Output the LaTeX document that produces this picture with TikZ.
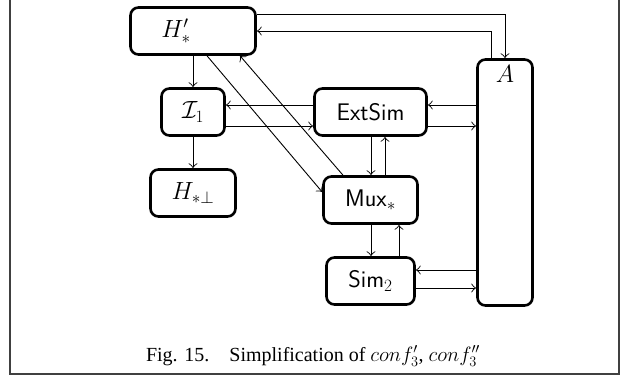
\documentclass[tikz,border=0pt]{standalone}
\usepackage[no-math]{fontspec}
\setmainfont{Liberation Serif}
\usetikzlibrary{arrows.meta,calc}
\tikzset{
  box/.style={draw, line width=2.6pt, rounded corners=8pt, inner sep=0pt,
    font=\fontsize{24}{28}\selectfont},
  arr/.style={-{Classical TikZ Rightarrow[length=5pt,width=9pt]}, line width=0.9pt},
  frame/.style={draw=black!75, line width=1.4pt},
  capt/.style={font=\fontsize{20}{24}\selectfont, anchor=base}
}
\begin{document}
\begin{tikzpicture}[x=1pt,y=-1pt]
\useasboundingbox (0,0) rectangle (626,379);
\draw[frame] (10,0) -- (10,374) -- (619,374) -- (619,0);

\node[box, minimum width=125pt, minimum height=47pt] (Hp) at (193,31) {$H'_*$\kern34pt};
\node[box, minimum width=55pt, minimum height=246pt,
  label={[font=\fontsize{24}{28}\selectfont, below=4pt]north:$A$}] (A) at (505,182.5) {};
\node[box, minimum width=63pt, minimum height=47pt] (I1) at (193,112) {$\mathcal{I}_1$};
\node[box, minimum width=112pt, minimum height=47pt] (Ext) at (370.5,112) {\sffamily ExtSim};
\node[box, minimum width=85pt, minimum height=47pt] (Hb) at (193,193) {$H_{*\perp}$};
\node[box, minimum width=94pt, minimum height=47pt] (Mux) at (370.5,200) {\sffamily Mux$_*$};
\node[box, minimum width=88pt, minimum height=47pt] (Sim) at (370.5,281) {\sffamily Sim$_2$};

\coordinate (ya) at (0,14);
\coordinate (xa) at (491,0);
\coordinate (y1) at (0,105);
\coordinate (y2) at (0,126);
\coordinate (y3) at (0,270);
\coordinate (y4) at (0,288);
\coordinate (x1) at (371,0);
\coordinate (x2) at (385,0);
\coordinate (x3) at (399,0);
\coordinate (xd1) at (207,0);
\coordinate (yd1) at (0,192);
\coordinate (xd2) at (343,0);
\coordinate (xd3) at (240,0);

\draw[arr] (Hp.east |- ya) -| (A.north);
\draw[arr] (A.north -| xa) |- (Hp.east);
\draw[arr] (Hp.south) -- (I1.north);
\draw[arr] (I1.south) -- (Hb.north);
\draw[arr] (Ext.west |- y1) -- (I1.east |- y1);
\draw[arr] (I1.east |- y2) -- (Ext.west |- y2);
\draw[arr] (A.west |- y1) -- (Ext.east |- y1);
\draw[arr] (Ext.east |- y2) -- (A.west |- y2);
\draw[arr] (Ext.south -| x1) -- (Mux.north -| x1);
\draw[arr] (Mux.north -| x2) -- (Ext.south -| x2);
\draw[arr] (Mux.south -| x1) -- (Sim.north -| x1);
\draw[arr] (Sim.north -| x3) -- (Mux.south -| x3);
\draw[arr] (A.west |- y3) -- (Sim.east |- y3);
\draw[arr] (Sim.east |- y4) -- (A.west |- y4);
\draw[arr] (Hp.south -| xd1) -- (Mux.west |- yd1);
\draw[arr] (Mux.north -| xd2) -- (Hp.south -| xd3);

\node[capt] (cap) at (313,361.5) {Fig. 15.\hspace{1em}Simplification of $conf_3'$, $conf_3''$};
\end{tikzpicture}
\end{document}
